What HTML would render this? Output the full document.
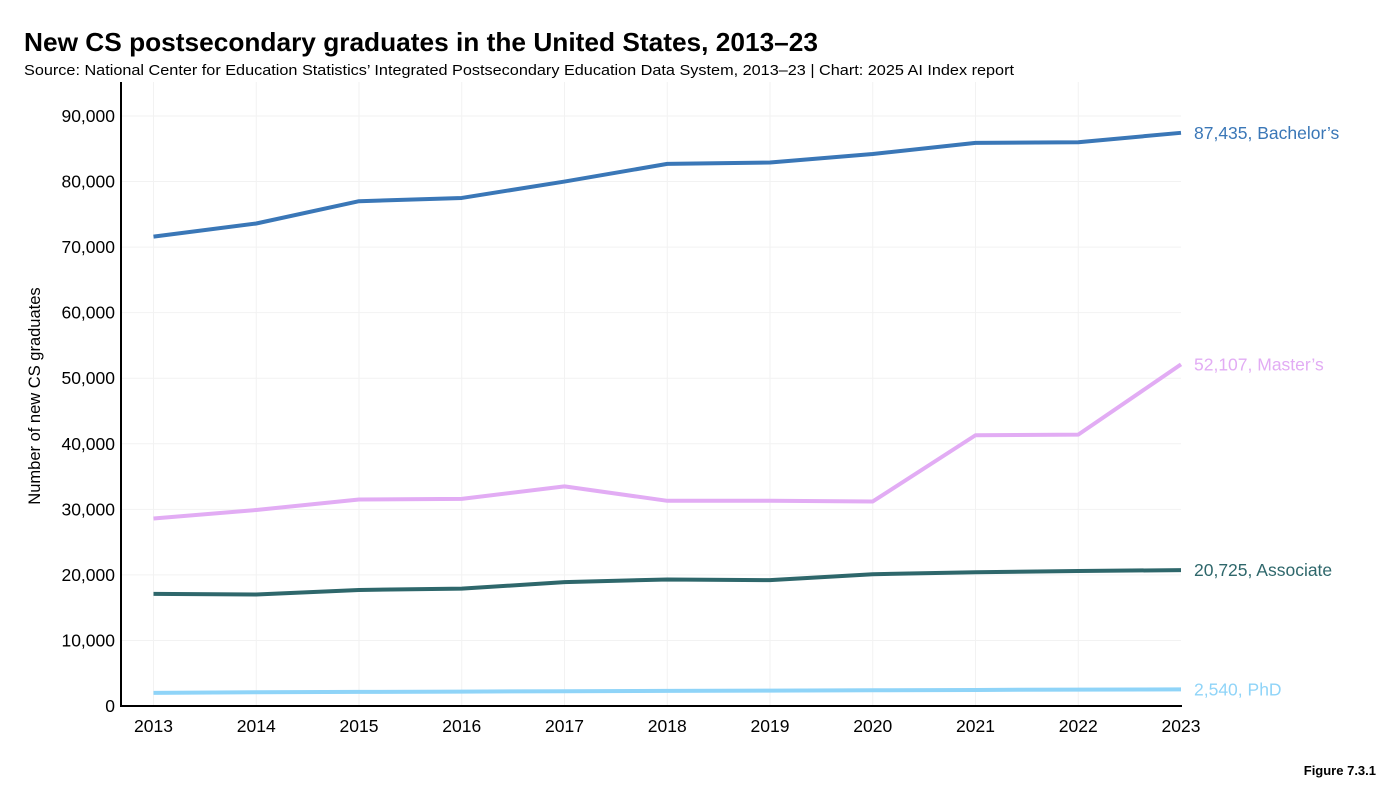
<!DOCTYPE html>
<html><head><meta charset="utf-8"><style>
body{margin:0;background:#fff;width:1394px;height:800px;overflow:hidden;font-family:"Liberation Sans",sans-serif}
</style></head><body>
<svg width="1394" height="800">
<text x="24" y="51" font-size="26" font-weight="bold" fill="#000" textLength="794" lengthAdjust="spacingAndGlyphs">New CS postsecondary graduates in the United States, 2013–23</text>
<text x="24" y="75" font-size="15" fill="#000" textLength="990" lengthAdjust="spacingAndGlyphs">Source: National Center for Education Statistics’ Integrated Postsecondary Education Data System, 2013–23 | Chart: 2025 AI Index report</text>
<text x="1376" y="775" font-size="13" font-weight="bold" text-anchor="end">Figure 7.3.1</text>
<text transform="translate(40,396) rotate(-90)" font-size="16.5" text-anchor="middle">Number of new CS graduates</text>
<g id="grid"></g><g id="ticks"></g><g id="lines"></g>
<line x1="121" y1="82" x2="121" y2="707" stroke="#000" stroke-width="2"/>
<line x1="120" y1="706" x2="1182" y2="706" stroke="#000" stroke-width="2"/>
</svg>
<script>
const years=[2013,2014,2015,2016,2017,2018,2019,2020,2021,2022,2023];
const yTicks=[0,10000,20000,30000,40000,50000,60000,70000,80000,90000];
const bachelors=[71600,73600,77000,77500,80000,82700,82900,84200,85900,86000,87435];
const masters=[28600,29900,31500,31600,33500,31300,31300,31200,41300,41400,52107];
const associate=[17100,17000,17700,17900,18900,19300,19200,20100,20400,20600,20725];
const phd=[2000,2100,2150,2200,2250,2300,2350,2400,2450,2500,2540];
const NS="http://www.w3.org/2000/svg";
const X=i=>153.5+(1181-153.5)*i/(years.length-1);
const Y=v=>706-v*(590/90000);
function mk(t,a,p){const e=document.createElementNS(NS,t);for(const k in a)e.setAttribute(k,a[k]);p.appendChild(e);return e;}
const grid=document.getElementById('grid'),ticks=document.getElementById('ticks'),lines=document.getElementById('lines');
yTicks.forEach(v=>{
 const l=mk('line',{x1:121,x2:1181,y1:Y(v),y2:Y(v),stroke:'#f2f2f2'},grid);
 
 
 const t=mk('text',{x:115,y:Y(v)+6,'font-size':17.5,'text-anchor':'end'},ticks);
 t.textContent=v.toLocaleString('en-US');
 
 
});
years.forEach((yr,i)=>{
 if(i<years.length-1){
 const l=mk('line',{x1:X(i),x2:X(i),y1:82,y2:706,stroke:'#f2f2f2'},grid);
 
 
 }
 const t=mk('text',{x:X(i),y:732,'font-size':17.5,'text-anchor':'middle'},ticks);
 t.textContent=yr;
 
 
});
const series=[[bachelors,'#3a77b7',"Bachelor’s",'bachelors'],[masters,'#e2acf4',"Master’s",'masters'],[associate,'#2e676b','Associate','associate'],[phd,'#8fd4f8','PhD','phd']];
series.forEach(([d,c,lab,n])=>{
 const p=mk('polyline',{points:d.map((v,i)=>X(i)+','+Y(v)).join(' '),fill:'none',stroke:c,'stroke-width':4,'stroke-linejoin':'round'},lines);
 
 
 const last=d[d.length-1];
 const t=mk('text',{x:1194,y:Y(last)+6,'font-size':17.5,fill:c},lines);
 t.textContent=last.toLocaleString('en-US')+', '+lab;
 
 
});
</script>
</body></html>
